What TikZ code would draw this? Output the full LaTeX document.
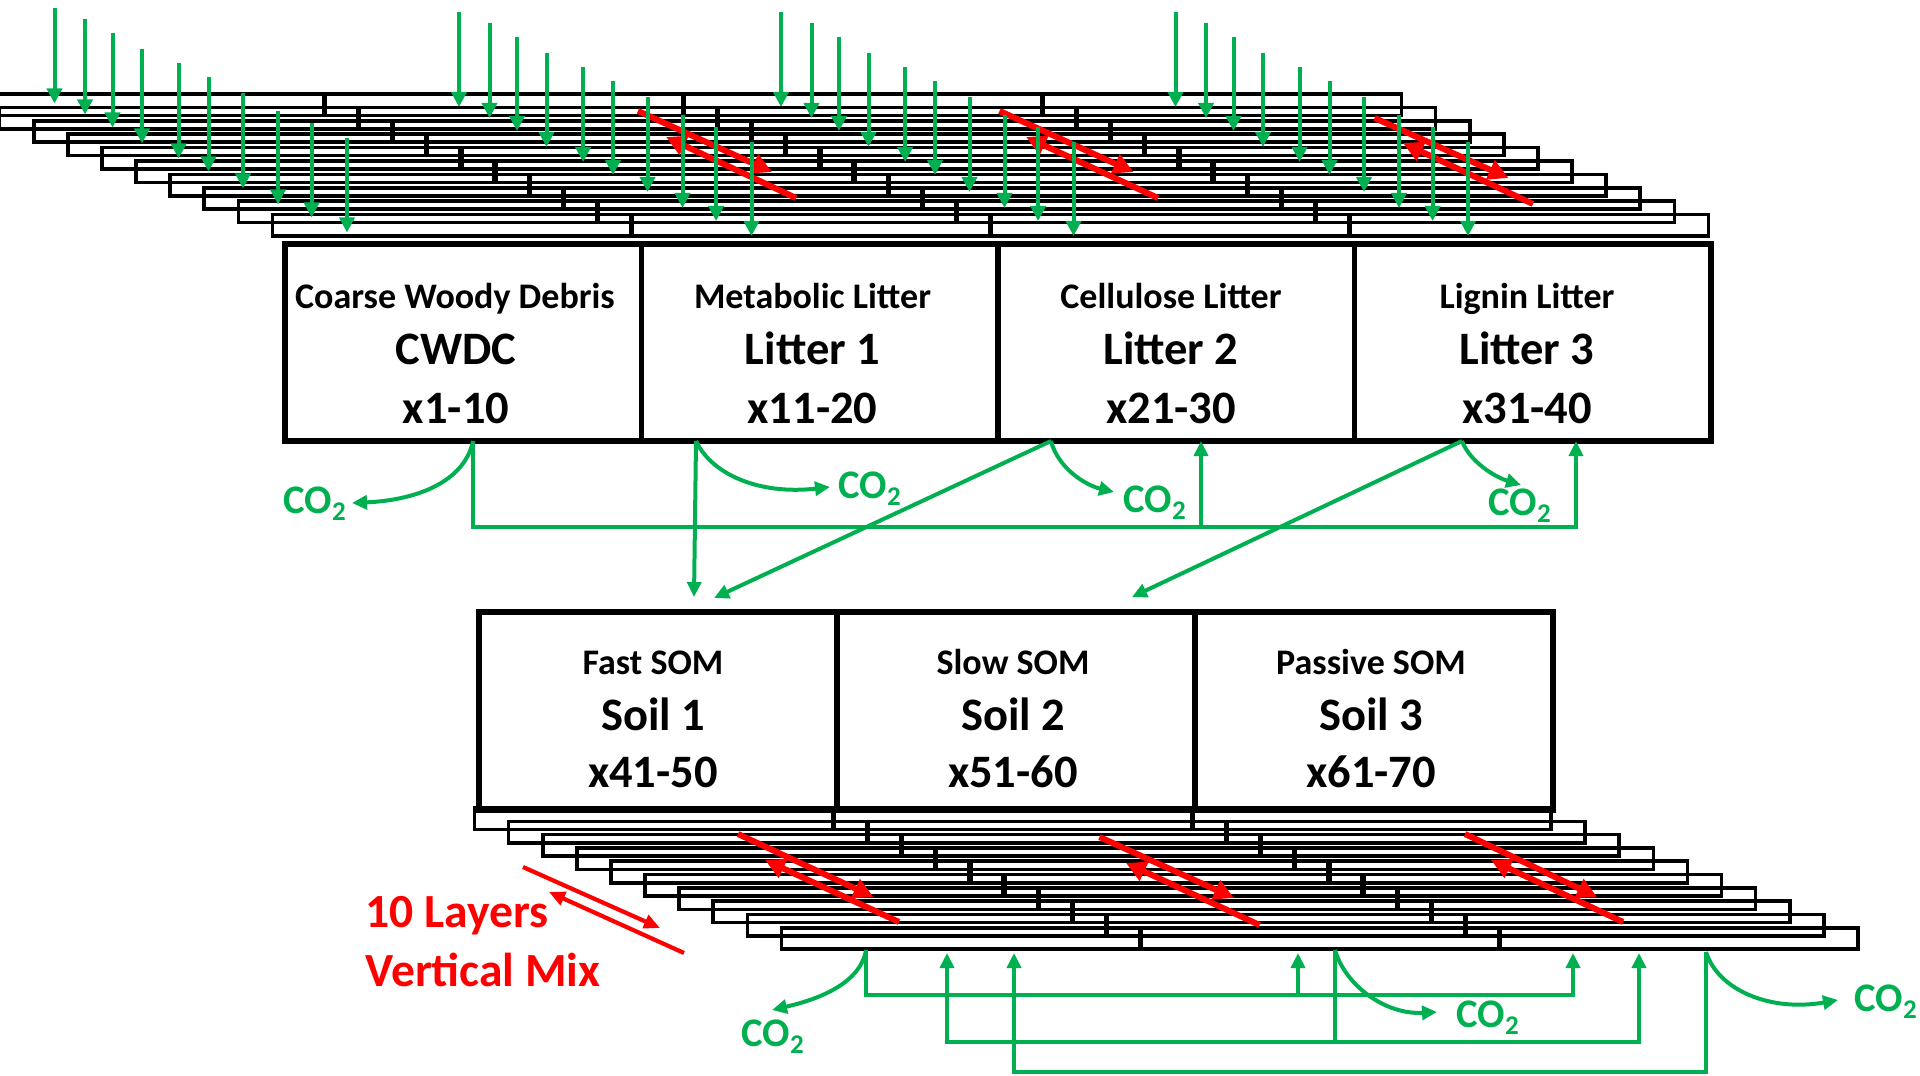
\documentclass[tikz,border=0pt]{standalone}
\usepackage{fontspec}
\setmainfont{Carlito}
\usetikzlibrary{arrows.meta}
\definecolor{cgreen}{RGB}{0,176,80}
\definecolor{cred}{RGB}{255,0,0}
\newcommand\cotwo{CO\raisebox{-3.5pt}{\fontsize{13.5pt}{13.5pt}\selectfont 2}}
\begin{document}
\begin{tikzpicture}[x=0.5pt,y=-0.5pt,
  slab/.style={draw=black,line width=1.8pt},
  divtick/.style={draw=black,line width=2.6pt},
  compbox/.style={draw=black,line width=2.8pt,inner sep=0pt,anchor=north west},
  topbox/.style={compbox,minimum width=178.25pt,minimum height=98.5pt},
  soilbox/.style={compbox,minimum width=179pt,minimum height=99pt},
  smalltxt/.style={font=\fontsize{18pt}{20pt}\selectfont\bfseries,anchor=base,inner sep=0pt},
  bigtxt/.style={font=\fontsize{23.25pt}{26pt}\selectfont\bfseries,anchor=base,inner sep=0pt},
  cotxt/.style={text=cgreen,font=\fontsize{20.3pt}{24pt}\selectfont\bfseries,anchor=base west,inner sep=0pt},
  redtxt/.style={text=cred,font=\fontsize{23.8pt}{26pt}\selectfont\bfseries,anchor=base west,inner sep=0pt},
  gline/.style={draw=cgreen,line width=2pt},
  garrow/.style={gline,-{Triangle[width=7pt,length=7.5pt]}},
  toparrow/.style={draw=cgreen,line width=2pt,-{Triangle[width=7.5pt,length=7.5pt]}},
  rfwd/.style={draw=cred,line width=3pt,-{Triangle[width=10pt,length=10pt]}},
  rback/.style={draw=cred,line width=3pt,{Triangle[width=10pt,length=10pt]}-},
  lfwd/.style={draw=cred,line width=2.1pt,-{Triangle[width=7pt,length=8pt]}},
  lback/.style={draw=cred,line width=2.1pt,{Triangle[width=7pt,length=8pt]}-}
]
\useasboundingbox (0,0) rectangle (1920,1075);

% ---------- top layer slabs ----------
\foreach \i in {0,...,9}{
  \pgfmathsetmacro\L{-34.5+34.1*\i}
  \pgfmathsetmacro\T{94+13.4*\i}
  \draw[slab] (\L,\T) rectangle ++(1436,21.5);
  \foreach \k in {1,2,3}{\draw[divtick] (\L+359*\k,\T) -- ++(0,21.5);}
}

% ---------- lower layer slabs ----------
\foreach \i in {0,...,9}{
  \pgfmathsetmacro\L{474.5+34.1*\i}
  \pgfmathsetmacro\T{808+13.3*\i}
  \draw[slab] (\L,\T) rectangle ++(1076.5,21.5);
  \foreach \k in {1,2}{\draw[divtick] (\L+359*\k,\T) -- ++(0,21.5);}
}

% ---------- litter boxes ----------
\node[topbox] (cwd) at (282,241) {};
\node[topbox] (lt1) at (638.5,241) {};
\node[topbox] (lt2) at (995,241) {};
\node[topbox] (lt3) at (1351.5,241) {};
\node[smalltxt] (cwdA) at (455,308) {Coarse Woody Debris};
\node[bigtxt]   (cwdB) at (456,364) {CWDC};
\node[bigtxt]   (cwdC) at (456,423) {x1-10};
\node[smalltxt] (lt1A) at (812.5,308) {Metabolic Litter};
\node[bigtxt]   (lt1B) at (812.5,364) {Litter 1};
\node[bigtxt]   (lt1C) at (812.5,423) {x11-20};
\node[smalltxt] (lt2A) at (1171,308) {Cellulose Litter};
\node[bigtxt]   (lt2B) at (1171,364) {Litter 2};
\node[bigtxt]   (lt2C) at (1171,423) {x21-30};
\node[smalltxt] (lt3A) at (1527,308) {Lignin Litter};
\node[bigtxt]   (lt3B) at (1527,364) {Litter 3};
\node[bigtxt]   (lt3C) at (1527,423) {x31-40};

% ---------- soil boxes ----------
\node[soilbox] (sm1) at (476,609) {};
\node[soilbox] (sm2) at (834,609) {};
\node[soilbox] (sm3) at (1192,609) {};
\node[smalltxt] (sm1A) at (653,674) {Fast SOM};
\node[bigtxt]   (sm1B) at (653,730) {Soil 1};
\node[bigtxt]   (sm1C) at (653,787) {x41-50};
\node[smalltxt] (sm2A) at (1013,674) {Slow SOM};
\node[bigtxt]   (sm2B) at (1013,730) {Soil 2};
\node[bigtxt]   (sm2C) at (1013,787) {x51-60};
\node[smalltxt] (sm3A) at (1371,674) {Passive SOM};
\node[bigtxt]   (sm3B) at (1371,730) {Soil 3};
\node[bigtxt]   (sm3C) at (1371,787) {x61-70};

% ---------- red vertical-mixing arrows ----------
\foreach \n/\ax/\ay/\bx/\by/\cx/\cy/\dx/\dy in {
   1/638/111/772/172/666/137/796/198,
   2/999.5/111/1133.5/172/1026/137/1158/198,
   3/1374.5/118/1508.5/178/1403/143/1533/204,
   4/738/834/873.5/897/765/860/899/922,
   5/1099.5/837/1234/898/1126/863/1259.5/925,
   6/1465/834/1597/897/1491/860/1623/922}{
  \coordinate (ma\n) at (\ax,\ay);
  \coordinate (mb\n) at (\bx,\by);
  \coordinate (mc\n) at (\cx,\cy);
  \coordinate (md\n) at (\dx,\dy);
  \draw[rfwd] (ma\n) -- (mb\n);
  \draw[rback] (mc\n) -- (md\n);
}

% ---------- green input arrows on top ----------
\foreach \g/\gx/\gy in {0/0/-3.5, 1/404.5/0, 2/726.5/0, 3/1121/0}{
  \foreach \x/\ya/\yb [count=\n] in {54.5/12/107, 85/23/118, 112.5/37/131, 142/53/147,
      178.6/67/162, 208.5/81/175, 243/97/192, 278/115/208, 311.6/127/221, 347/142/236}{
    \coordinate (in\g-\n) at (\x+\gx,\ya+\gy);
    \coordinate (to\g-\n) at (\x+\gx,\yb+\gy);
    \draw[toparrow] (in\g-\n) -- (to\g-\n);
  }
}

% ---------- litter connectors ----------
\coordinate (cwdOut) at (473,441);
\coordinate (cwdDn) at (473,527);
\coordinate (lg3In) at (1576,441);
\coordinate (lg3Dn) at (1576,527);
\coordinate (lg2In) at (1201,441);
\coordinate (lg2Dn) at (1201,527);
\coordinate (co1tip) at (352,503);
\draw[garrow] (cwdOut) .. controls (465,480) and (420,500) .. (co1tip);
\draw[garrow] (cwdOut) -- (cwdDn) -- (lg3Dn) -- (lg3In);
\draw[garrow] (lg2Dn) -- (lg2In);

\coordinate (l1Out) at (696,441);
\coordinate (fsTop1) at (694,597);
\coordinate (co2tip) at (830,487);
\draw[garrow] (l1Out) .. controls (712,475) and (760,495) .. (co2tip);
\draw[garrow] (l1Out) -- (fsTop1);

\coordinate (l2Out) at (1051,441);
\coordinate (fsTop2) at (714,598);
\coordinate (co3tip) at (1114,492);
\draw[garrow] (l2Out) .. controls (1058,468) and (1085,485) .. (co3tip);
\draw[garrow] (l2Out) -- (fsTop2);

\coordinate (l3Out) at (1462,441);
\coordinate (ssTop) at (1132,597);
\coordinate (co4tip) at (1521,485);
\draw[garrow] (l3Out) .. controls (1470,462) and (1495,477) .. (co4tip);
\draw[garrow] (l3Out) -- (ssTop);

% ---------- soil connectors ----------
\coordinate (fsOut) at (866,950);
\coordinate (fsDn) at (866,995);
\coordinate (ssIn1) at (1298,953);
\coordinate (ssDn1) at (1298,995);
\coordinate (psIn1) at (1573,953);
\coordinate (psDn1) at (1573,995);
\coordinate (co5tip) at (772,1010);
\draw[garrow] (fsOut) .. controls (860,985) and (815,1000) .. (co5tip);
\draw[garrow] (fsOut) -- (fsDn) -- (psDn1) -- (psIn1);
\draw[garrow] (ssDn1) -- (ssIn1);

\coordinate (ssOut) at (1335,950);
\coordinate (ssDn) at (1335,1042);
\coordinate (fsIn1) at (947,953);
\coordinate (fsDn1) at (947,1042);
\coordinate (psIn2) at (1639,953);
\coordinate (psDn2) at (1639,1042);
\coordinate (co6tip) at (1437,1012);
\draw[garrow] (ssOut) .. controls (1345,985) and (1385,1015) .. (co6tip);
\draw[gline] (ssOut) -- (ssDn);
\draw[garrow] (ssDn) -- (fsDn1) -- (fsIn1);
\draw[garrow] (ssDn) -- (psDn2) -- (psIn2);

\coordinate (psOut) at (1706,952);
\coordinate (psDn) at (1706,1072);
\coordinate (fsIn2) at (1014,953);
\coordinate (fsDn2) at (1014,1072);
\coordinate (co7tip) at (1838,1000);
\draw[garrow] (psOut) .. controls (1718,990) and (1770,1012) .. (co7tip);
\draw[garrow] (psOut) -- (psDn) -- (fsDn2) -- (fsIn2);

% ---------- CO2 labels ----------
\node[cotxt] (co1) at (283,513) {\cotwo};
\node[cotxt] (co2) at (838,498) {\cotwo};
\node[cotxt] (co3) at (1123,512) {\cotwo};
\node[cotxt] (co4) at (1488,515) {\cotwo};
\node[cotxt] (co5) at (741,1046) {\cotwo};
\node[cotxt] (co6) at (1456,1027) {\cotwo};
\node[cotxt] (co7) at (1854,1011) {\cotwo};

% ---------- legend ----------
\node[redtxt] (legA) at (365,927) {10 Layers};
\node[redtxt] (legB) at (365,986) {Vertical Mix};
\coordinate (lga) at (523,867);
\coordinate (lgb) at (660,928);
\coordinate (lgc) at (549,892);
\coordinate (lgd) at (684,953);
\draw[lfwd] (lga) -- (lgb);
\draw[lback] (lgc) -- (lgd);
\end{tikzpicture}
\end{document}
